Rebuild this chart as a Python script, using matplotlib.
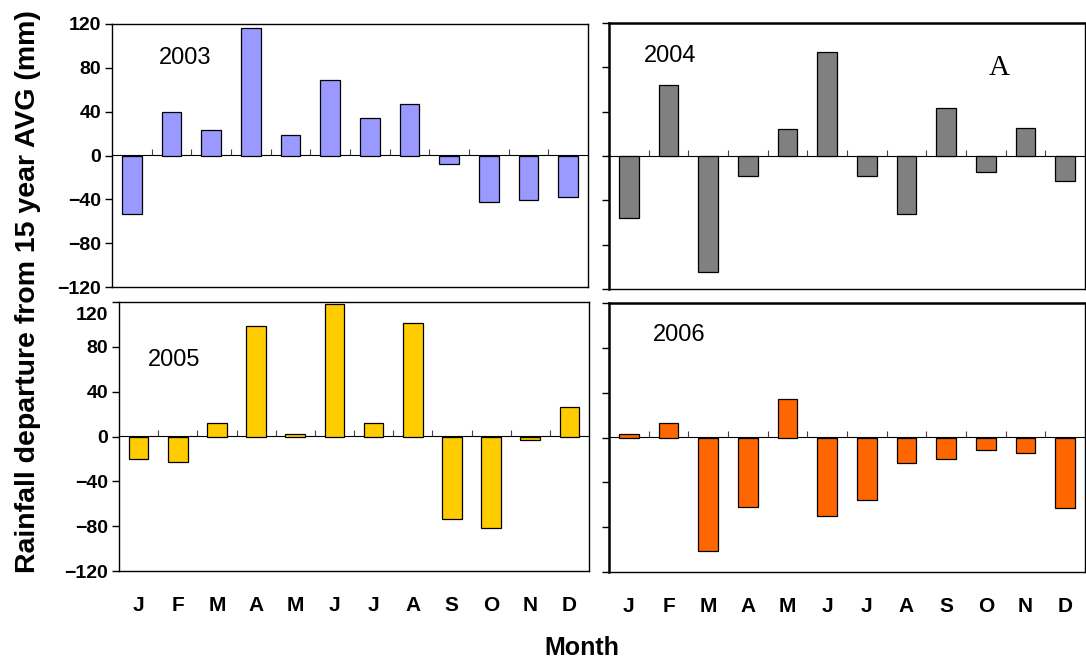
import matplotlib.pyplot as plt
import matplotlib.transforms as mtransforms
import numpy as np

plt.rcParams["font.family"] = ["Liberation Sans", "DejaVu Sans"]

months = ["J", "F", "M", "A", "M", "J", "J", "A", "S", "O", "N", "D"]
yticks = [-120, -80, -40, 0, 40, 80, 120]

dep_2003 = [-53, 40, 23, 116, 19, 69, 34, 47, -8, -42, -41, -38]
dep_2004 = [-56, 64, -105, -18, 24, 94, -18, -52, 43, -14, 25, -23]
dep_2005 = [-20, -23, 12, 99, 2, 118, 12, 101, -74, -82, -3, 26]
dep_2006 = [3, 13, -101, -62, 34, -70, -56, -23, -19, -11, -14, -63]

W, H = 1086, 661
fig = plt.figure(figsize=(W / 100, H / 100), dpi=100)


def px_axes(left, top, right, bottom):
    return fig.add_axes([left / W, 1 - bottom / H, (right - left) / W, (bottom - top) / H])


panels = [
    # (box in px, values, colour, year, year text pos, show y labels, show months)
    ((112, 24, 588, 287), dep_2003, "#9999FF", "2003", (0.153, 0.871), True, False),
    ((609, 23, 1085, 289), dep_2004, "#808080", "2004", (0.128, 0.876), False, False),
    ((119, 302, 589, 571), dep_2005, "#FFCC00", "2005", (0.117, 0.784), True, True),
    ((609, 303, 1085, 572), dep_2006, "#FF6600", "2006", (0.147, 0.881), False, True),
]

x = np.arange(len(months))
axes = []
for box, vals, color, year, ypos, ylab, xlab in panels:
    ax = px_axes(*box)
    axes.append(ax)
    ax.bar(x, vals, width=0.5, color=color, edgecolor="black", linewidth=0.9, zorder=3)
    ax.set_xlim(-0.5, len(months) - 0.5)
    ax.set_ylim(-120, 120)
    ax.set_yticks(yticks)
    ax.tick_params(axis="y", direction="out", length=5, width=1.0, pad=3,
                   labelsize=14, labelleft=ylab)
    for lab in ax.get_yticklabels():
        lab.set_fontweight("bold")
    ax.set_xticks(x)
    if xlab:
        ax.set_xticklabels(months, fontsize=15, fontweight="bold")
        ax.tick_params(axis="x", length=0, pad=18)
    else:
        ax.tick_params(axis="x", length=0, labelbottom=False)
    for sp in ax.spines.values():
        sp.set_linewidth(1.0)
    if not ylab:
        ax.spines["top"].set_linewidth(1.8)
        ax.spines["left"].set_linewidth(1.8)

    # zero line with category-boundary ticks
    zero = ax.secondary_xaxis(0.5)
    zero.set_xticks(np.arange(0.5, len(months) - 0.5, 1.0))
    zero.set_xticklabels([])
    zero.tick_params(axis="x", direction="out", length=4, width=0.8, color="#444444",
                     labelbottom=False, labeltop=False)
    zero.spines["bottom"].set_color("#555555")
    zero.spines["bottom"].set_linewidth(1.0)

    ax.text(ypos[0], ypos[1], year, transform=ax.transAxes, ha="center", va="center", fontsize=17)

# the top "120" label of the 2005 panel sits a little lower in the original
lab120 = axes[2].get_yticklabels()[-1]
lab120.set_transform(lab120.get_transform() + mtransforms.ScaledTranslation(0, -11 / 100, fig.dpi_scale_trans))

axes[1].text(0.819, 0.831, "A", transform=axes[1].transAxes, ha="center", va="center",
             fontsize=21, family="Liberation Serif")

fig.text(582 / W, 1 - 648 / H, "Month", ha="center", va="center", fontsize=18, fontweight="bold")
fig.text(28 / W, 1 - 292 / H, "Rainfall departure from 15 year AVG (mm)", rotation=90,
         ha="center", va="center", fontsize=20.5, fontweight="bold")

fig.savefig("out.png", dpi=100)
